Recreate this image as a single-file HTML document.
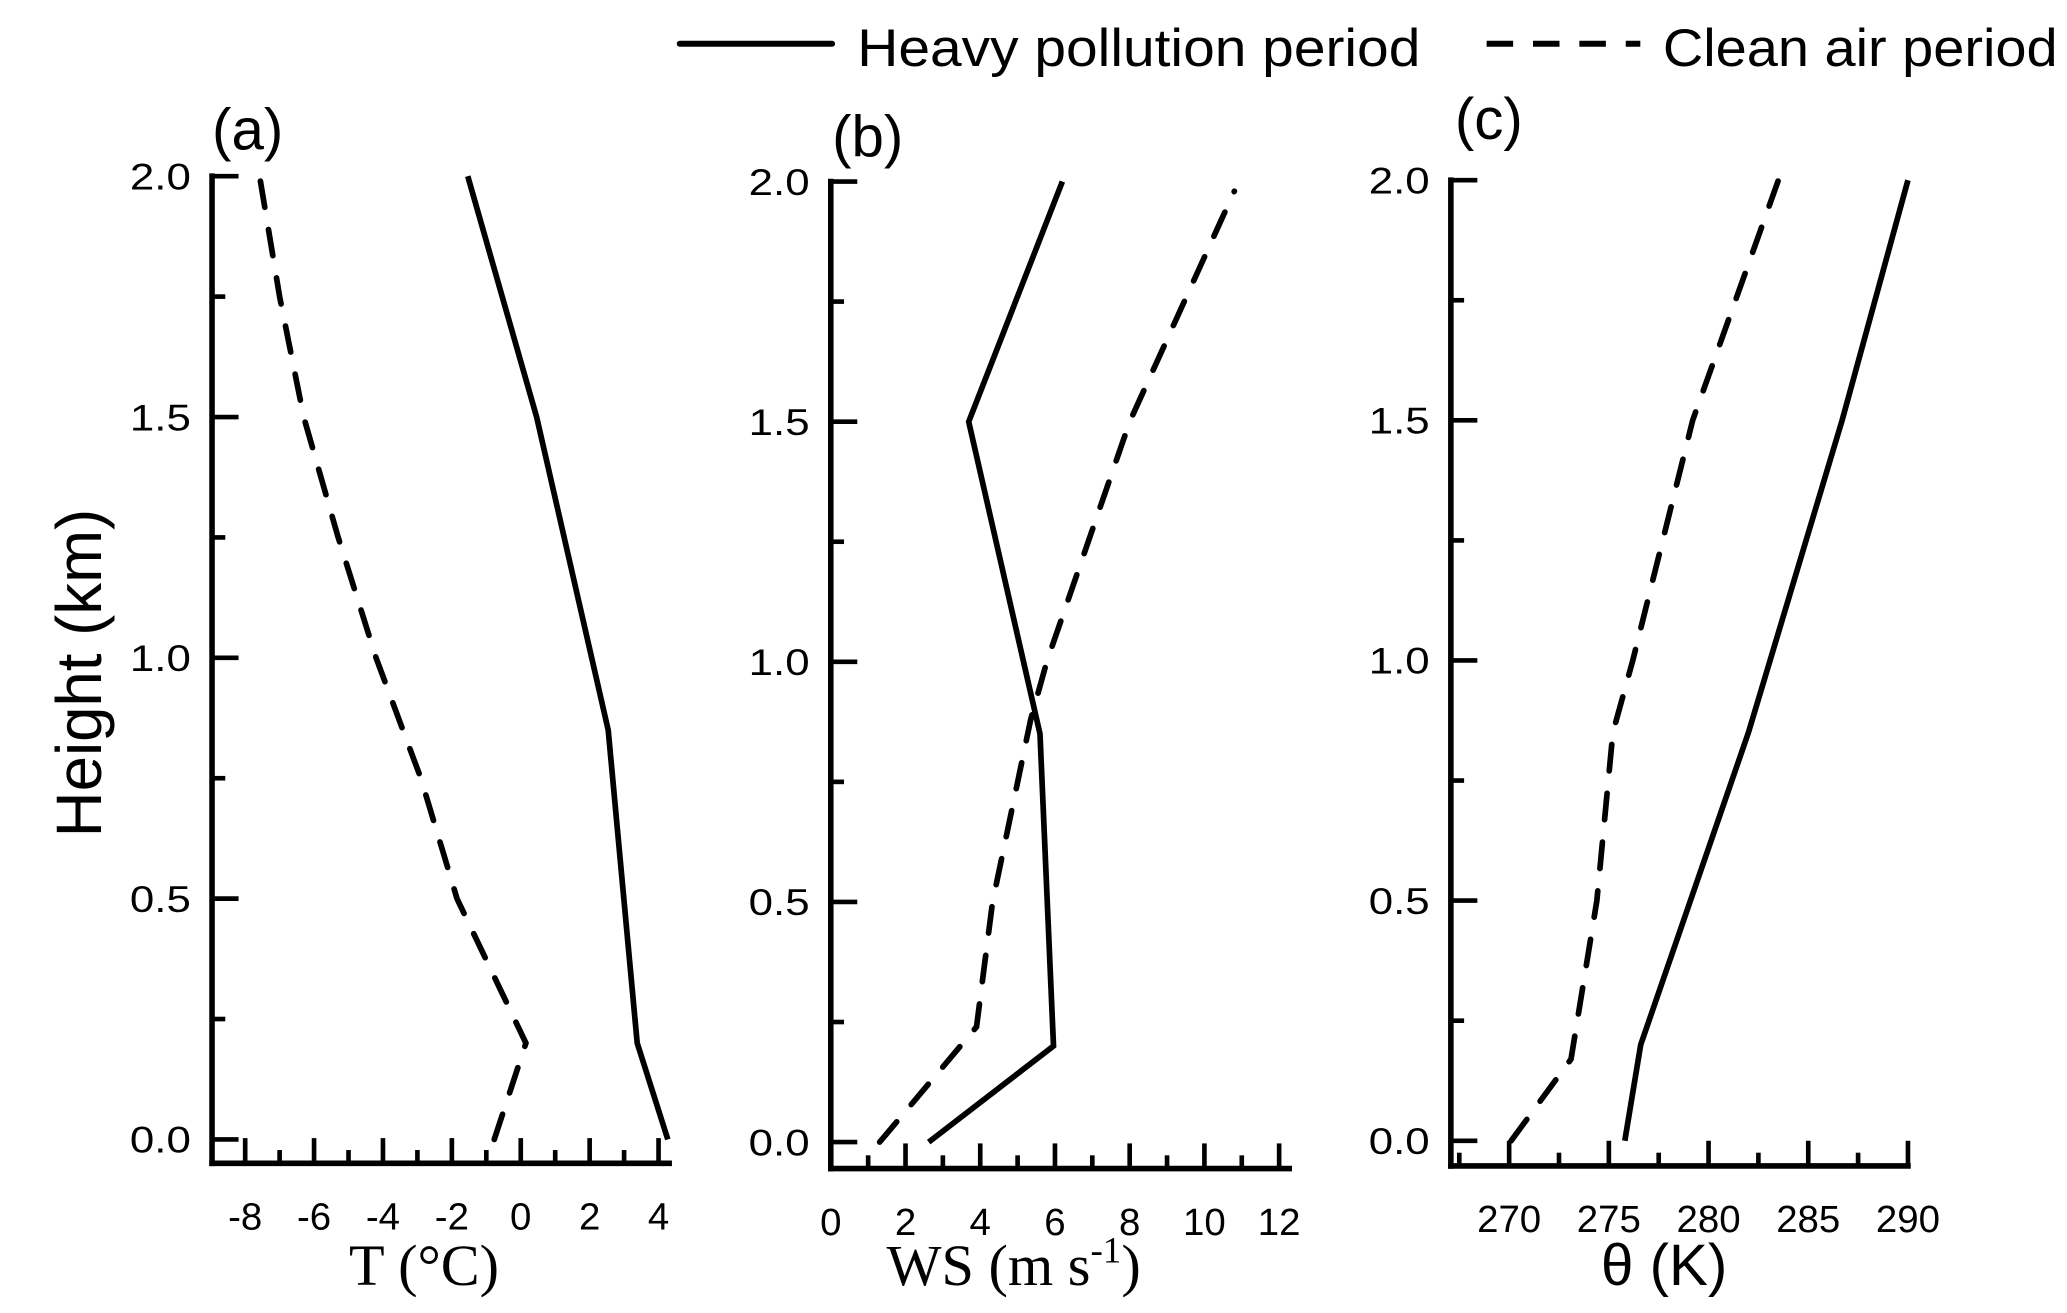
<!DOCTYPE html>
<html><head><meta charset="utf-8"><style>
html,body{margin:0;padding:0;background:#fff;}
svg{display:block;}
text{fill:#000;}
</style></head><body>
<svg id="chart" xmlns="http://www.w3.org/2000/svg" width="2067" height="1313" viewBox="0 0 1560 991">
<g>
  <line x1="513" y1="33" x2="628" y2="33" stroke="#000" stroke-width="4.5" stroke-linecap="round"/>
  <text x="647" y="50" font-family="Liberation Sans, sans-serif" font-size="40" textLength="425" lengthAdjust="spacingAndGlyphs">Heavy pollution period</text>
  <line x1="1122" y1="33" x2="1238" y2="33" stroke="#000" stroke-width="4.5" stroke-dasharray="20,15"/>
  <text x="1255" y="50" font-family="Liberation Sans, sans-serif" font-size="40" textLength="298" lengthAdjust="spacingAndGlyphs">Clean air period</text>
</g>
<text transform="translate(76,508) rotate(-90)" text-anchor="middle" font-family="Liberation Sans, sans-serif" font-size="48">Height (km)</text>
</svg>
<script>
// Panel (a) temperature
const tHeavyH = [0, 0.2, 0.85, 1.5, 2.0];
const tHeavyV = [4.27, 3.38, 2.54, 0.46, -1.54];
const tCleanH = [0, 0.2, 0.5, 0.75, 1.0, 1.25, 1.5, 1.75, 2.0];
const tCleanV = [-0.77, 0.15, -1.85, -2.9, -4.2, -5.3, -6.3, -7.0, -7.58];
const tTicks = [-8, -6, -4, -2, 0, 2, 4];
// Panel (b) wind speed
const wsHeavyH = [0, 0.2, 0.85, 1.5, 2.0];
const wsHeavyV = [2.62, 5.96, 5.6, 3.69, 6.2];
const wsCleanH = [0, 0.24, 0.5, 0.88, 1.0, 1.5, 1.98];
const wsCleanV = [1.31, 3.9, 4.33, 5.35, 5.78, 8.0, 10.8];
const wsTicks = [0, 2, 4, 6, 8, 10, 12];
// Panel (c) potential temperature
const thHeavyH = [0, 0.2, 0.85, 1.5, 2.0];
const thHeavyV = [275.8, 276.6, 282.0, 286.7, 290.0];
const thCleanH = [0, 0.17, 0.5, 0.85, 1.0, 1.5, 2.0];
const thCleanV = [270.1, 273.1, 274.4, 275.2, 276.2, 279.2, 283.5];
const thTicks = [270, 275, 280, 285, 290];
const hTicks = [0.0, 0.5, 1.0, 1.5, 2.0];

const NS = 'http://www.w3.org/2000/svg';
const svg = document.getElementById('chart');
function mk(tag, attrs, parent) {
  const e = document.createElementNS(NS, tag);
  for (const k in attrs) e.setAttribute(k, attrs[k]);
  (parent || svg).appendChild(e);
  return e;
}

function panel(cfg) {
  const g = mk('g', {});
  
  
  const xs = v => cfg.x0px + (v - cfg.x0v) * cfg.kx;
  const ys = h => cfg.y0px - h * cfg.ky;
  const sw = 4.2;
  const yax = mk('line', {x1: cfg.ax, y1: cfg.top, x2: cfg.ax, y2: cfg.bot, stroke: '#000', 'stroke-width': sw, 'stroke-linecap': 'square'}, g);
  
  
  const xax = mk('line', {x1: cfg.ax, y1: cfg.bot, x2: cfg.xend, y2: cfg.bot, stroke: '#000', 'stroke-width': sw, 'stroke-linecap': 'square'}, g);
  
  
  for (let h = 0; h <= 2.0001; h += 0.25) {
    const major = Math.abs(h * 2 - Math.round(h * 2)) < 1e-6;
    const t = mk('line', {x1: cfg.ax, y1: ys(h), x2: cfg.ax + (major ? 20 : 10), y2: ys(h), stroke: '#000', 'stroke-width': 3.5}, g);
    
    
  }
  hTicks.forEach(h => {
    const t = mk('text', {x: cfg.ax - 16, y: ys(h) + 10, 'text-anchor': 'end', 'font-family': 'Liberation Sans, sans-serif', 'font-size': 28, textLength: 46, lengthAdjust: 'spacingAndGlyphs'}, g);
    t.textContent = h.toFixed(1);
    
    
  });
  for (let v = cfg.minorStart; v <= cfg.minorEnd + 1e-6; v += cfg.minor) {
    const major = Math.abs(v / cfg.major - Math.round(v / cfg.major)) < 1e-6;
    const t = mk('line', {x1: xs(v), y1: cfg.bot, x2: xs(v), y2: cfg.bot - (major ? 19 : 10), stroke: '#000', 'stroke-width': 3.5}, g);
    
    
  }
  cfg.ticks.forEach(v => {
    const t = mk('text', {x: xs(v), y: cfg.bot + 50, 'text-anchor': 'middle', 'font-family': 'Liberation Sans, sans-serif', 'font-size': 29}, g);
    t.textContent = String(v);
    
    
  });
  function series(H, V, dashed, name) {
    const pts = H.map((h, i) => xs(V[i]).toFixed(1) + ',' + ys(h).toFixed(1)).join(' ');
    const p = mk('polyline', {points: pts, fill: 'none', stroke: '#000', 'stroke-width': 4.3, 'stroke-linejoin': 'miter', 'stroke-linecap': dashed ? 'round' : 'butt'}, g);
    if (dashed) p.setAttribute('stroke-dasharray', '20,17');
    
    
  }
  series(cfg.hH, cfg.hV, false, 'heavy-pollution-line-' + cfg.id);
  series(cfg.cH, cfg.cV, true, 'clean-air-line-' + cfg.id);
  const pl = mk('text', {x: cfg.lx, y: cfg.ly, 'font-family': 'Liberation Sans, sans-serif', 'font-size': 44}, g);
  pl.textContent = '(' + cfg.id + ')';
  
  
  const at = mk('text', {x: cfg.tx, y: 970, 'text-anchor': 'middle', 'font-family': cfg.serif ? 'Liberation Serif, serif' : 'Liberation Sans, sans-serif', 'font-size': cfg.serif ? 44 : 44}, g);
  at.innerHTML = cfg.title;
  
  
}

panel({id: 'a', ax: 160, top: 133, bot: 878, xend: 505, x0px: 393, x0v: 0, kx: 26, y0px: 860, ky: 363.5,
  minorStart: -8, minorEnd: 4, minor: 1, major: 2, ticks: tTicks,
  hH: tHeavyH, hV: tHeavyV, cH: tCleanH, cV: tCleanV, lx: 160, ly: 113, tx: 320, serif: true,
  title: 'T (\u00B0C)'});
panel({id: 'b', ax: 627, top: 137, bot: 882, xend: 973, x0px: 627, x0v: 0, kx: 28.2, y0px: 862, ky: 362.5,
  minorStart: 1, minorEnd: 12, minor: 1, major: 2, ticks: wsTicks,
  hH: wsHeavyH, hV: wsHeavyV, cH: wsCleanH, cV: wsCleanV, lx: 628, ly: 118, tx: 765, serif: true,
  title: 'WS (m s<tspan dy="-17" font-size="28">-1</tspan><tspan dy="17">)</tspan>'});
panel({id: 'c', ax: 1095, top: 136, bot: 880, xend: 1440, x0px: 1139, x0v: 270, kx: 15.05, y0px: 861, ky: 362.5,
  minorStart: 267.5, minorEnd: 290, minor: 2.5, major: 5, ticks: thTicks,
  hH: thHeavyH, hV: thHeavyV, cH: thCleanH, cV: thCleanV, lx: 1098, ly: 105, tx: 1256, serif: false,
  title: '\u03B8 (K)'});
</script>
</body></html>
